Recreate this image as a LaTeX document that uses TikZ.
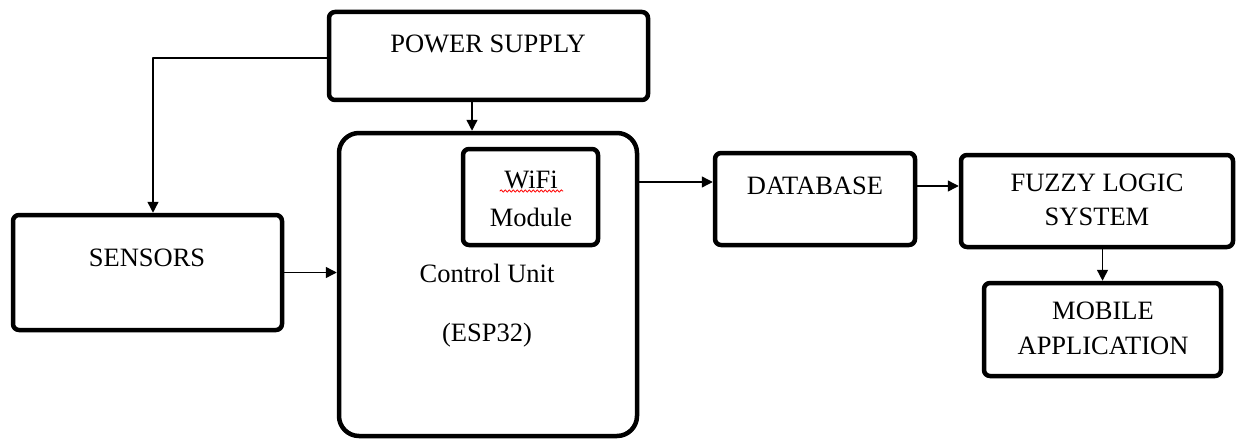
\documentclass[tikz,border=0pt]{standalone}
\usepackage{fontspec}
\setmainfont{Liberation Serif}
\usepackage{tikz}
\usetikzlibrary{arrows.meta,decorations.pathmorphing}

\tikzset{
  blk/.style={draw,line width=4.5pt,rounded corners=6pt,inner sep=0pt},
  lbl/.style={align=center,font=\fontsize{26.5}{38}\selectfont},
  conn/.style={->,line width=1.4pt}
}

\begin{document}
\begin{tikzpicture}[line cap=round,line join=round,>={Triangle[length=11pt,width=11pt]},x=1pt,y=-1pt]
        \useasboundingbox (0,0) rectangle (1238,441);
        % blocks
        \node[blk,minimum width=319pt,minimum height=88pt] (power) at (488.5,56) {};
        \node[blk,rounded corners=20pt,minimum width=298pt,minimum height=303pt] (cu) at (488,284.5) {};
        \node[blk,minimum width=135pt,minimum height=96pt] (wifi) at (530.5,197) {};
        \node[blk,minimum width=269pt,minimum height=115pt] (sensors) at (147.5,272.5) {};
        \node[blk,minimum width=200pt,minimum height=92pt] (db) at (815,199) {};
        \node[blk,minimum width=272pt,minimum height=92pt] (fuzzy) at (1097,201) {};
        \node[blk,minimum width=237pt,minimum height=93pt] (mobile) at (1102.5,329.5) {};
        % texts
        \draw (488,44) node[lbl] (tpower) {POWER SUPPLY};
        \draw (147,258) node[lbl] (tsensors) {SENSORS};
        \draw (531,199) node[lbl] (twifi) {WiFi\\Module};
        \draw (487,273) node[lbl] (tcu) {Control Unit};
        \draw (487,335) node[lbl] (tesp) {(ESP32)};
        \draw (815,186) node[lbl] (tdb) {DATABASE};
        \draw (1097,200) node[lbl,font=\fontsize{26.5}{34}\selectfont] (tfuzzy) {FUZZY LOGIC\\SYSTEM};
        \draw (1103,328) node[lbl,font=\fontsize{26.5}{35}\selectfont] (tmobile) {MOBILE\\APPLICATION};
        \draw [red,line width=0.8pt,decorate,decoration={snake,segment length=4pt,amplitude=1.2pt}] (500,191) -- (563,191);
        % connectors
        \coordinate (psout) at ([xshift=-16.5pt]power.south);
        \coordinate (dbin) at ([yshift=17pt]db.west);
        \coordinate (fzin) at ([yshift=15pt]fuzzy.west);
        \draw [conn] (psout) -- (psout |- cu.north);
        \draw [conn] ([yshift=-2pt]power.west) -| ([xshift=5.5pt]sensors.north);
        \draw [conn] (sensors.east) -- (sensors.east -| cu.west);
        \draw [conn] (dbin -| cu.east) -- (dbin);
        \draw [conn] (fzin -| db.east) -- (fzin);
        \draw [conn] (fuzzy.south -| mobile.north) -- (mobile.north);
\end{tikzpicture}
\end{document}
